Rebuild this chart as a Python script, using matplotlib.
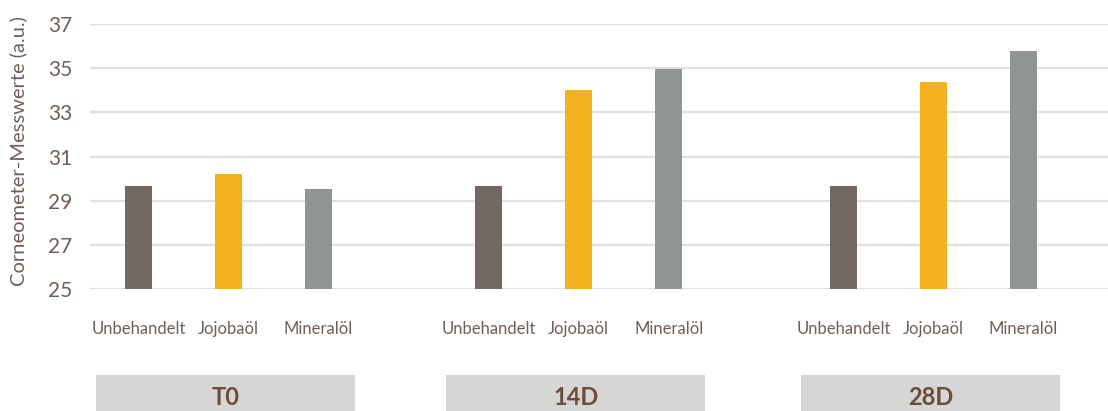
import matplotlib
matplotlib.use("Agg")
import matplotlib.pyplot as plt
import matplotlib.transforms as mtransforms
from matplotlib.patches import Rectangle

# Daten
gruppen = ["T0", "14D", "28D"]
behandlungen = ["Unbehandelt", "Jojobaöl", "Mineralöl"]
unbehandelt = [29.66, 29.66, 29.66]
jojobaoel = [30.23, 34.0, 34.38]
mineraloel = [29.51, 34.94, 35.8]
yticks = [25, 27, 29, 31, 33, 35, 37]

farben = ["#726762", "#F2B220", "#909494"]
textfarbe = "#6e5f58"
plt.rcParams["font.family"] = ["Lato", "DejaVu Sans"]

fig = plt.figure(figsize=(11.08, 4.11), dpi=100)
ax = fig.add_axes([90 / 1108, 1 - 289 / 411, 1 - 90 / 1108, 265 / 411])

zentren = [0, 3.89, 7.83]  # Gruppenmitten
werte = [unbehandelt, jojobaoel, mineraloel]

xpos, xlab = [], []
for j, (serie, farbe) in enumerate(zip(werte, farben)):
    xs = [c + (j - 1) for c in zentren]
    ax.bar(xs, [v - 25 for v in serie], bottom=25, width=0.3, color=farbe, zorder=3)
    xpos += xs
    xlab += [behandlungen[j]] * len(xs)

ax.set_ylim(25, 37)
ax.set_xlim(-1.54, 9.77)
ax.set_yticks(yticks)
ax.set_yticklabels([str(t) for t in yticks], fontsize=15, color=textfarbe)
ax.set_xticks(xpos)
ax.set_xticklabels(xlab, fontsize=12, color=textfarbe)
ax.tick_params(axis="x", length=0, pad=23)
ax.tick_params(axis="y", length=0, pad=13)
ax.grid(axis="y", color="#e0e0e0", linewidth=1.6, zorder=0)
for s in ax.spines.values():
    s.set_visible(False)

# Gruppenkästen unten
trans = mtransforms.blended_transform_factory(ax.transData, ax.transAxes)
for c, name in zip(zentren, gruppen):
    ax.add_patch(Rectangle((c - 0.033 - 1.44, -0.5), 2.88, 0.5 - 0.3245,
                           transform=trans, clip_on=False,
                           facecolor="#d6d6d4", edgecolor="none"))
    ax.text(c - 0.033, -0.41, name, transform=trans, ha="center", va="center",
            fontsize=17, fontweight="bold", color="#6b4c3c")

fig.text(18 / 1108, 1 - 151 / 411, "Corneometer-Messwerte (a.u.)", rotation=90,
         ha="center", va="center", fontsize=14.5, color=textfarbe)

fig.savefig("out.png", dpi=100)
